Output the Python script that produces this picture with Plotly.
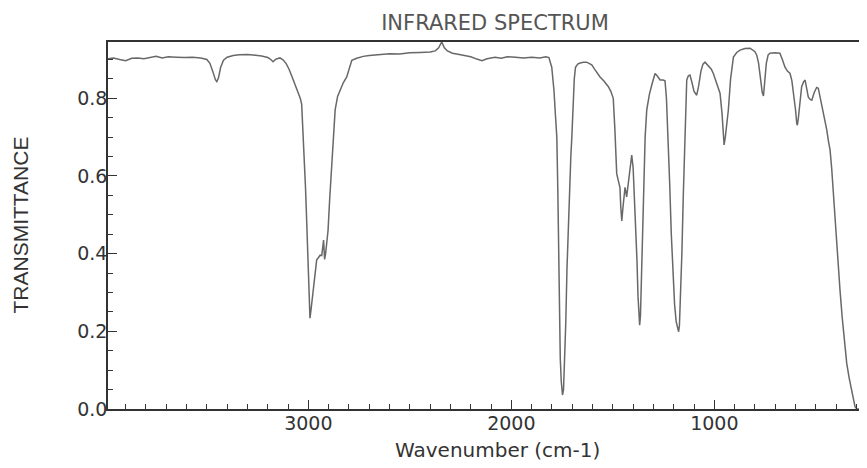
import plotly.graph_objects as go

# IR spectrum: wavenumber (cm-1) and transmittance
wavenumber = [
    3987, 3960, 3930, 3900, 3870, 3840, 3810, 3780, 3750, 3720, 3690, 3650, 3610, 3570, 3530,
    3500, 3485, 3470, 3458, 3451, 3443, 3432, 3418, 3400, 3370, 3340, 3300, 3260, 3230, 3200,
    3185, 3174, 3160, 3140, 3125, 3110, 3095, 3080, 3065, 3050, 3040, 3033, 3026, 3020, 3014,
    3008, 3002, 2997, 2992, 2987, 2980, 2975, 2967, 2959, 2950, 2942, 2934, 2929, 2925, 2920,
    2915, 2909, 2903, 2895, 2885, 2876, 2868, 2856, 2844, 2828, 2811, 2798, 2786, 2762, 2730,
    2700, 2650, 2600, 2550, 2500, 2450, 2400, 2375, 2358, 2343, 2330, 2315, 2290, 2250, 2200,
    2170, 2145, 2120, 2080, 2050, 2020, 1980, 1940, 1900, 1860, 1830, 1815, 1801, 1790, 1782,
    1776, 1771, 1767, 1763, 1759, 1754, 1748, 1743, 1738, 1732, 1726, 1720, 1714, 1707, 1702,
    1696, 1690, 1684, 1673, 1661, 1645, 1629, 1615, 1604, 1590, 1575, 1563, 1545, 1530, 1522,
    1510, 1498, 1490, 1484, 1481, 1474, 1468, 1465, 1461, 1456, 1450, 1444, 1440, 1432, 1425,
    1415, 1407, 1400, 1395, 1390, 1386, 1381, 1376, 1371, 1368, 1364, 1360, 1356, 1351, 1346,
    1341, 1333, 1320, 1308, 1300, 1292, 1282, 1267, 1252, 1243, 1236, 1228, 1220, 1212, 1204,
    1196, 1188, 1180, 1176, 1172, 1166, 1160, 1153, 1146, 1140, 1136, 1128, 1120, 1110, 1100,
    1087, 1078, 1066, 1056, 1046, 1030, 1015, 1005, 992, 982, 972, 962, 956, 952, 946,
    938, 931, 920, 906, 890, 873, 850, 824, 800, 791, 782, 772, 764, 758, 752,
    744, 735, 726, 700, 677, 665, 652, 640, 627, 618, 611, 600, 594, 591, 586,
    578, 570, 560, 553, 545, 537, 528, 520, 508, 496, 488, 478, 471, 460, 446,
    438, 430, 422, 416, 408, 401, 391, 381, 370, 359, 348, 336, 323, 315, 307,
    298, 248,
]
transmittance = [
    0.902, 0.904, 0.900, 0.897, 0.903, 0.904, 0.902, 0.906, 0.908, 0.904, 0.907, 0.906, 0.905, 0.906, 0.904,
    0.900, 0.890, 0.868, 0.848, 0.843, 0.852, 0.880, 0.898, 0.906, 0.910, 0.912, 0.913, 0.911, 0.909, 0.905,
    0.900, 0.894, 0.901, 0.904, 0.899, 0.890, 0.875, 0.855, 0.835, 0.815, 0.800, 0.785, 0.710, 0.650, 0.570,
    0.480, 0.380, 0.300, 0.234, 0.255, 0.285, 0.300, 0.350, 0.384, 0.390, 0.396, 0.395, 0.420, 0.435, 0.385,
    0.400, 0.430, 0.460, 0.540, 0.620, 0.700, 0.770, 0.805, 0.820, 0.840, 0.855, 0.878, 0.898, 0.903, 0.908,
    0.910, 0.913, 0.915, 0.914, 0.917, 0.918, 0.919, 0.922, 0.930, 0.945, 0.930, 0.922, 0.916, 0.912, 0.907,
    0.901, 0.897, 0.902, 0.906, 0.903, 0.907, 0.906, 0.904, 0.906, 0.904, 0.907, 0.905, 0.880, 0.820, 0.750,
    0.700, 0.560, 0.400, 0.250, 0.130, 0.070, 0.036, 0.050, 0.110, 0.220, 0.360, 0.470, 0.570, 0.650, 0.700,
    0.790, 0.850, 0.880, 0.888, 0.891, 0.893, 0.893, 0.890, 0.886, 0.875, 0.862, 0.855, 0.845, 0.835, 0.830,
    0.818, 0.800, 0.720, 0.640, 0.606, 0.590, 0.575, 0.571, 0.520, 0.484, 0.520, 0.565, 0.571, 0.546, 0.580,
    0.630, 0.654, 0.620, 0.560, 0.520, 0.460, 0.380, 0.290, 0.230, 0.216, 0.240, 0.310, 0.400, 0.480, 0.600,
    0.700, 0.770, 0.810, 0.835, 0.850, 0.864, 0.858, 0.847, 0.847, 0.845, 0.800, 0.700, 0.580, 0.450, 0.340,
    0.270, 0.225, 0.200, 0.199, 0.215, 0.290, 0.400, 0.550, 0.700, 0.800, 0.847, 0.858, 0.860, 0.840, 0.818,
    0.808, 0.830, 0.870, 0.888, 0.893, 0.884, 0.875, 0.864, 0.845, 0.830, 0.813, 0.760, 0.700, 0.680, 0.700,
    0.740, 0.770, 0.850, 0.906, 0.918, 0.924, 0.928, 0.929, 0.920, 0.911, 0.890, 0.850, 0.815, 0.806, 0.840,
    0.890, 0.912, 0.916, 0.917, 0.916, 0.900, 0.880, 0.870, 0.864, 0.845, 0.820, 0.770, 0.735, 0.731, 0.750,
    0.795, 0.830, 0.843, 0.847, 0.825, 0.803, 0.797, 0.795, 0.815, 0.828, 0.826, 0.800, 0.788, 0.760, 0.718,
    0.690, 0.667, 0.620, 0.570, 0.500, 0.450, 0.370, 0.306, 0.235, 0.170, 0.118, 0.080, 0.049, 0.022, 0.006,
    0.000, 0.000,
]

x_tick_values = [3000, 2000, 1000]
x_tick_labels = ["3000", "2000", "1000"]
y_tick_values = [0.0, 0.2, 0.4, 0.6, 0.8]
y_tick_labels = ["0.0", "0.2", "0.4", "0.6", "0.8"]

# the page body adds an 8px offset, so the figure is laid out 8px smaller
OFF = 8
W, H = 867 - OFF, 468 - OFF
PL, PT, PB = 108 - OFF, 42 - OFF, 409 - OFF   # plot-area edges in figure pixels
plot_w = W - PL
plot_h = PB - PT

fig = go.Figure()
fig.add_trace(go.Scatter(
    x=wavenumber, y=transmittance, mode="lines",
    line=dict(color="#686868", width=1.5),
    showlegend=False, hoverinfo="skip",
))

axis_col = "#333333"
fig.update_layout(
    width=W, height=H,
    paper_bgcolor="white", plot_bgcolor="white",
    margin=dict(l=PL, r=0, t=PT, b=H - PB, autoexpand=False),
    font=dict(family="DejaVu Sans", size=19, color="#333333"),
    title=dict(
        text="INFRARED SPECTRUM", x=(495 - 108) / plot_w, xref="paper", xanchor="center",
        y=1 - (23 - OFF) / H, yref="container", yanchor="middle",
        font=dict(family="DejaVu Sans", size=21, color="#555555"),
    ),
    xaxis=dict(
        range=[3987, 248], showgrid=False, zeroline=False,
        showline=True, linecolor=axis_col, linewidth=1.5, mirror=True,
        ticks="inside", ticklen=9, tickwidth=1.3, tickcolor=axis_col,
        tickvals=x_tick_values, ticktext=x_tick_labels,
        minor=dict(dtick=100, tick0=0, ticks="inside", ticklen=5, tickcolor=axis_col, tickwidth=1),
        ticklabelstandoff=-4,
    ),
    yaxis=dict(
        range=[0, 0.945], showgrid=False, zeroline=False,
        showline=True, linecolor=axis_col, linewidth=1.5,
        ticks="inside", ticklen=9, tickwidth=1.3, tickcolor=axis_col,
        tickvals=y_tick_values, ticktext=y_tick_labels,
        minor=dict(dtick=0.05, tick0=0, ticks="inside", ticklen=5, tickcolor=axis_col, tickwidth=1),
        ticklabelstandoff=-5,
    ),
    annotations=[
        dict(text="TRANSMITTANCE", xref="paper", yref="paper",
             x=(20 - 108) / plot_w, y=0.5, xanchor="center", yanchor="middle",
             textangle=-90, showarrow=False,
             font=dict(family="Liberation Sans", size=21, color="#333333")),
        dict(text="Wavenumber (cm-1)", xref="paper", yref="paper",
             x=(497 - 108) / plot_w, y=(409 - 450) / plot_h, xanchor="center", yanchor="middle",
             showarrow=False,
             font=dict(family="DejaVu Sans", size=20, color="#333333")),
    ],
)

fig.write_html("out.html")
